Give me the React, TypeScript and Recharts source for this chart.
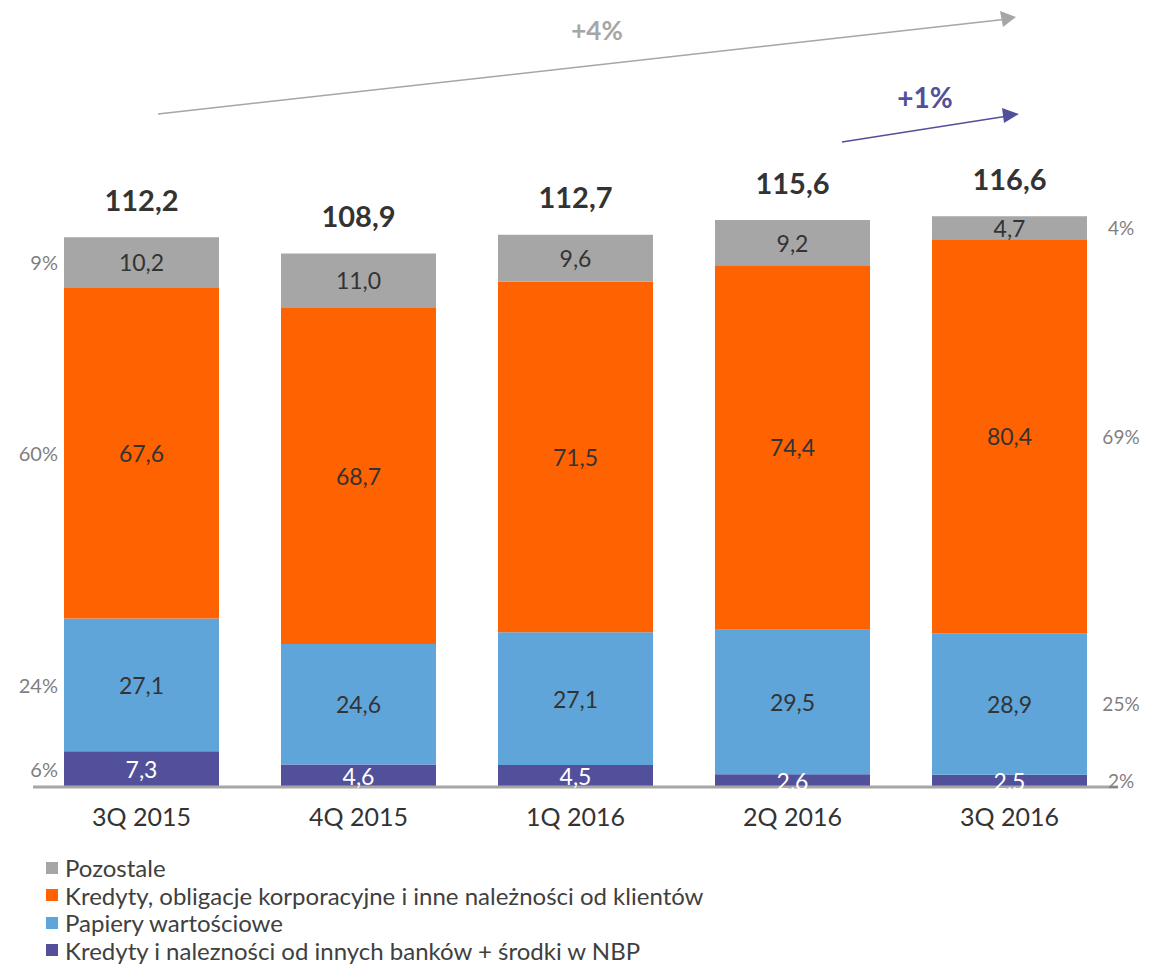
import { BarChart, Bar, XAxis, YAxis, LabelList, Legend, Customized } from "recharts";

const categories = ["3Q 2015", "4Q 2015", "1Q 2016", "2Q 2016", "3Q 2016"];
const interbank = [7.3, 4.6, 4.5, 2.6, 2.5];
const securities = [27.1, 24.6, 27.1, 29.5, 28.9];
const loans = [67.6, 68.7, 71.5, 74.4, 80.4];
const other = [10.2, 11.0, 9.6, 9.2, 4.7];
const totals = [112.2, 108.9, 112.7, 115.6, 116.6];
// udział w pierwszym i ostatnim kwartale, kolejność jak w stosie
const shareFirst = ["6%", "24%", "60%", "9%"];
const shareLast = ["2%", "25%", "69%", "4%"];

const series = [
  { key: "interbank", name: "Kredyty i nalezności od innych banków + środki w NBP", color: "#52509B", text: "#ffffff" },
  { key: "securities", name: "Papiery wartościowe", color: "#5FA5DA", text: "#333333" },
  { key: "loans", name: "Kredyty, obligacje korporacyjne i inne należności od klientów", color: "#FF6200", text: "#333333" },
  { key: "other", name: "Pozostale", color: "#A6A6A6", text: "#333333" },
];

const data = categories.map((c, i) => ({
  name: c,
  interbank: interbank[i],
  securities: securities[i],
  loans: loans[i],
  other: other[i],
  total: totals[i],
}));

const FONT = "Lato, 'Open Sans', sans-serif";
const fmt = (v: number) => v.toFixed(1).replace(".", ",");

function segmentLabel(si: number) {
  return (props: any) => {
    const { x, y, width, height, index, value } = props;
    const cx = x + width / 2;
    const cy = y + height / 2;
    const last = categories.length - 1;
    return (
      <g fontFamily={FONT}>
        <text x={cx} y={cy} textAnchor="middle" dominantBaseline="central" fontSize={23} fill={series[si].text}>
          {fmt(value)}
        </text>
        {index === 0 && (
          <text x={x - 6} y={cy} textAnchor="end" dominantBaseline="central" fontSize={20} fill="#7F7F7F">
            {shareFirst[si]}
          </text>
        )}
        {index === last && (
          <text x={x + width + 34} y={cy} textAnchor="middle" dominantBaseline="central" fontSize={19} fill="#7F7F7F">
            {shareLast[si]}
          </text>
        )}
        {si === series.length - 1 && (
          <text x={cx} y={y - 38} textAnchor="middle" dominantBaseline="central" fontSize={29} fontWeight={700} fill="#333333">
            {fmt(totals[index])}
          </text>
        )}
      </g>
    );
  };
}

function Arrows() {
  return (
    <g fontFamily={FONT}>
      <line x1={150} y1={106} x2={1000} y2={11} stroke="#A6A6A6" strokeWidth={1.5} />
      <path d="M992,3 L1008,9 L995,19 z" fill="#A6A6A6" />
      <text x={589} y={22} textAnchor="middle" dominantBaseline="central" fontSize={26} fontWeight={700} fill="#A6A6A6">
        +4%
      </text>
      <line x1={834} y1={134} x2={1000} y2={108} stroke="#52509B" strokeWidth={1.5} />
      <path d="M994,100 L1011,106 L996,115 z" fill="#52509B" />
      <text x={917} y={89} textAnchor="middle" dominantBaseline="central" fontSize={28} fontWeight={700} fill="#52509B">
        +1%
      </text>
    </g>
  );
}

function LegendBox() {
  return (
    <div style={{ height: 110, fontFamily: FONT, fontSize: 24, color: "#404040" }}>
      {[...series].reverse().map((s) => (
        <div key={s.key} style={{ display: "flex", alignItems: "center", height: 27.5, whiteSpace: "nowrap" }}>
          <span style={{ width: 12, height: 12, background: s.color, marginRight: 7, display: "inline-block" }} />
          <span>{s.name}</span>
        </div>
      ))}
    </div>
  );
}

export default function App() {
  return (
    <BarChart
      width={1141}
      height={956}
      data={data}
      margin={{ top: 191, right: 31, bottom: 0, left: 25 }}
      barCategoryGap={31}
    >
      <XAxis
        dataKey="name"
        height={67}
        tickLine={false}
        axisLine={{ stroke: "#A6A6A6", strokeWidth: 3 }}
        tick={{ fontSize: 25, fill: "#333333", fontFamily: FONT, dy: 13 }}
      />
      <YAxis hide domain={[0, 120]} />
      <Legend
        verticalAlign="bottom"
        align="left"
        layout="horizontal"
        wrapperStyle={{ left: 38, width: 900 }}
        content={() => <LegendBox />}
      />
      {series.map((s, si) => (
        <Bar key={s.key} dataKey={s.key} name={s.name} stackId="a" fill={s.color} isAnimationActive={false}>
          <LabelList dataKey={s.key} content={segmentLabel(si)} />
        </Bar>
      ))}
      <Customized component={Arrows} />
    </BarChart>
  );
}
